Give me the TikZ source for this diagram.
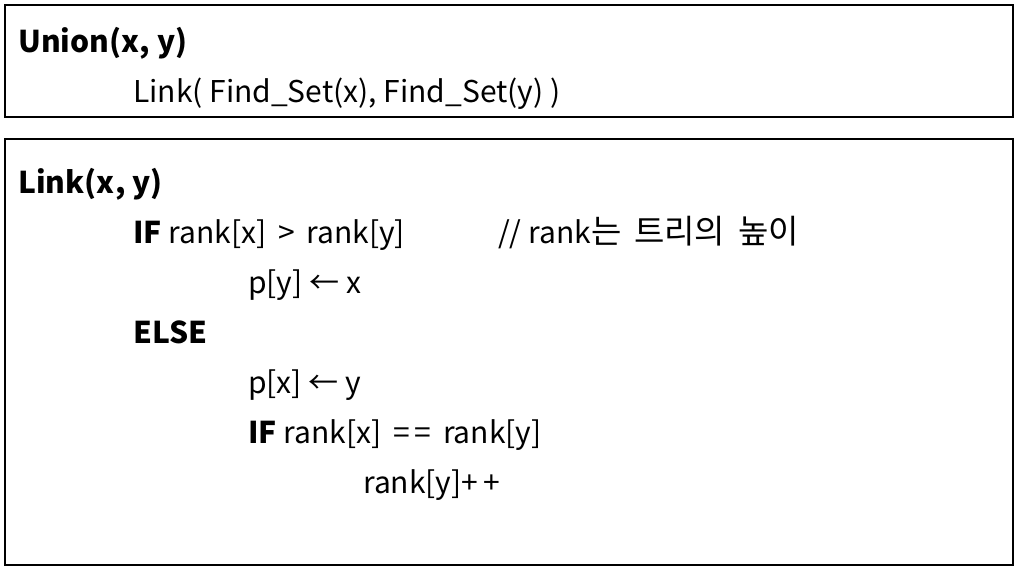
\documentclass[tikz,border=0pt]{standalone}
\usepackage{fontspec}
\setmainfont{Noto Sans CJK KR}
\newfontfamily\kor[Scale=1.1]{Noto Sans CJK KR}
\usetikzlibrary{positioning}
\tikzstyle{box} = [draw, line width=1.3pt]
\tikzstyle{code} = [anchor=base west, inner sep=0pt, font=\fontsize{30}{30}\selectfont]
\tikzstyle{head} = [code, font=\fontsize{30}{30}\selectfont\bfseries]

\begin{document}
\begin{tikzpicture}[x=1pt,y=-1pt]
  \useasboundingbox (0,0) rectangle (1019,571);
  \draw[box] (5,5) rectangle (1013,117);
  \draw[box] (5,139) rectangle (1013,565);

  % Union
  \node[head] (union) at (18,52) {Union(x, y)};
  \node[code] (call) at (133,102) {Link( Find\_Set(x), Find\_Set(y) )};

  % Link
  \node[head] (link) at (18,193) {Link(x, y)};
  \node[code] (if1) at (133,243) {\textbf{IF} rank[x] \,>\, rank[y]};
  \node[code] (note) at (498,243) {// rank{\kor 는\, 트리의\, 높이}};
  \node[code] (then) at (248,293) {p[y] ← x};
  \node[code] (else) at (133,343) {\textbf{ELSE}};
  \node[code] (set) at (248,393) {p[x] ← y};
  \node[code] (if2) at (248,443) {\textbf{IF} rank[x] \,=\,=\, rank[y]};
  \node[code] (inc) at (363,493) {rank[y]+\,+};
\end{tikzpicture}
\end{document}
